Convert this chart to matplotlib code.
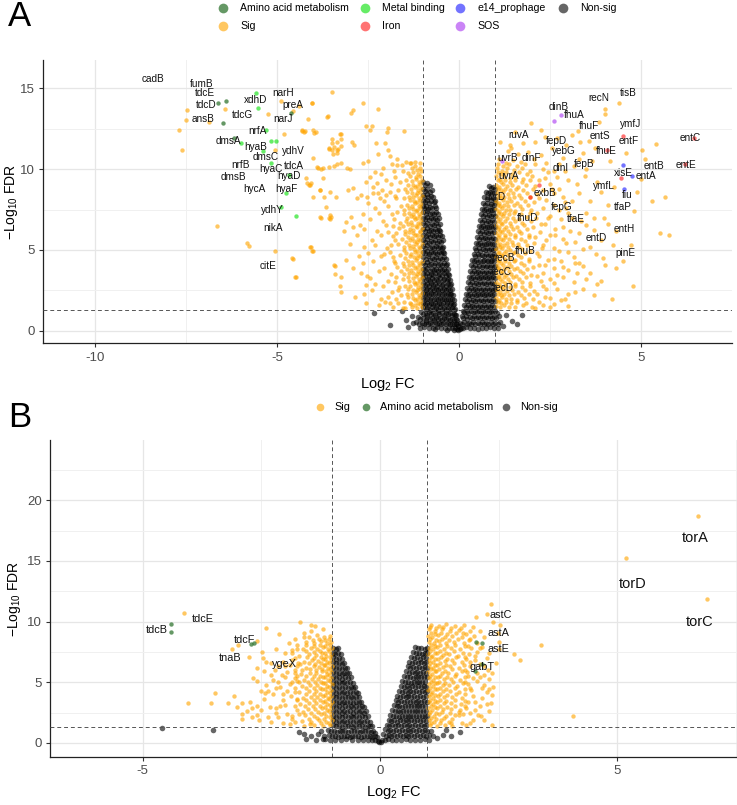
import matplotlib
matplotlib.use('Agg')
import matplotlib.pyplot as plt
from matplotlib.lines import Line2D
from matplotlib.ticker import MultipleLocator
import numpy as np

plt.rcParams['font.family'] = ['Liberation Sans', 'DejaVu Sans']
plt.rcParams['mathtext.fontset'] = 'custom'
plt.rcParams['mathtext.rm'] = 'Liberation Sans'
plt.rcParams['mathtext.it'] = 'Liberation Sans:italic'
plt.rcParams['axes.unicode_minus'] = False

# ---------------- Panel A data (log2 FC, -log10 FDR) ----------------
A_NS_LEFT = [
(-0.99,9.2),(-0.94,9.05),(-0.88,9.15),(-0.8,9.0),
(-0.98,8.8),(-0.93,8.65),(-0.87,8.75),(-0.81,8.6),(-0.74,8.7),
(-0.99,8.4),(-0.95,8.3),(-0.89,8.45),(-0.84,8.25),(-0.78,8.35),(-0.71,8.3),
(-0.98,8.05),(-0.93,7.95),(-0.87,8.1),(-0.82,7.9),(-0.76,8.0),(-0.7,7.95),(-0.66,8.05),
(-0.99,7.7),(-0.95,7.6),(-0.9,7.75),(-0.85,7.55),(-0.79,7.65),(-0.73,7.6),(-0.67,7.7),(-0.62,7.6),
(-0.98,7.35),(-0.92,7.25),(-0.87,7.4),(-0.81,7.2),(-0.75,7.3),(-0.69,7.25),(-0.64,7.35),(-0.59,7.2),
(-0.99,7.0),(-0.94,6.9),(-0.88,7.05),(-0.83,6.85),(-0.77,6.95),(-0.71,6.9),(-0.66,7.0),(-0.6,6.85),(-0.56,6.95),
(-0.98,6.65),(-0.93,6.55),(-0.87,6.7),(-0.81,6.5),(-0.75,6.6),(-0.7,6.55),(-0.64,6.65),(-0.58,6.5),(-0.53,6.6),
(-0.99,6.3),(-0.94,6.2),(-0.89,6.35),(-0.83,6.15),(-0.78,6.25),(-0.72,6.2),(-0.66,6.3),(-0.61,6.15),(-0.55,6.25),(-0.51,6.2),
(-0.98,5.95),(-0.92,5.85),(-0.86,6.0),(-0.8,5.8),(-0.74,5.9),(-0.68,5.85),(-0.63,5.95),(-0.57,5.8),(-0.52,5.9),(-0.48,5.85),
(-0.99,5.6),(-0.94,5.5),(-0.88,5.65),(-0.83,5.45),(-0.77,5.55),(-0.71,5.5),(-0.65,5.6),(-0.6,5.45),(-0.54,5.55),(-0.49,5.5),(-0.45,5.6),
(-0.98,5.25),(-0.93,5.15),(-0.87,5.3),(-0.81,5.1),(-0.75,5.2),(-0.7,5.15),(-0.64,5.25),(-0.58,5.1),(-0.53,5.2),(-0.47,5.15),(-0.43,5.2),
(-0.99,4.9),(-0.94,4.8),(-0.89,4.95),(-0.83,4.75),(-0.77,4.85),(-0.72,4.8),(-0.66,4.9),(-0.6,4.75),(-0.55,4.85),(-0.49,4.8),(-0.44,4.9),(-0.4,4.8),
(-0.98,4.55),(-0.92,4.45),(-0.86,4.6),(-0.81,4.4),(-0.75,4.5),(-0.69,4.45),(-0.63,4.55),(-0.58,4.4),(-0.52,4.5),(-0.46,4.45),(-0.41,4.55),(-0.37,4.45),
(-0.99,4.2),(-0.93,4.1),(-0.88,4.25),(-0.82,4.05),(-0.76,4.15),(-0.7,4.1),(-0.65,4.2),(-0.59,4.05),(-0.53,4.15),(-0.47,4.1),(-0.42,4.2),(-0.37,4.1),(-0.34,4.15),
(-0.98,3.85),(-0.94,3.75),(-0.87,3.9),(-0.81,3.7),(-0.75,3.8),(-0.69,3.75),(-0.64,3.85),(-0.58,3.7),(-0.52,3.8),(-0.46,3.75),(-0.41,3.85),(-0.35,3.7),(-0.31,3.8),
(-0.99,3.5),(-0.93,3.45),(-0.88,3.55),(-0.82,3.4),(-0.76,3.5),(-0.71,3.45),(-0.65,3.55),(-0.59,3.4),(-0.54,3.5),(-0.48,3.45),(-0.42,3.55),(-0.37,3.4),(-0.31,3.5),(-0.28,3.45),
(-0.98,3.25),(-0.92,3.15),(-0.86,3.2),(-0.8,3.1),(-0.75,3.25),(-0.69,3.15),(-0.63,3.2),(-0.57,3.1),(-0.51,3.25),(-0.45,3.15),(-0.4,3.2),(-0.34,3.1),(-0.29,3.2),(-0.25,3.15),
(-0.99,2.95),(-0.94,2.85),(-0.88,2.9),(-0.83,2.8),(-0.77,2.95),(-0.71,2.85),(-0.65,2.9),(-0.6,2.8),(-0.54,2.95),(-0.48,2.85),(-0.43,2.9),(-0.37,2.8),(-0.31,2.9),(-0.26,2.85),(-0.22,2.9),
(-0.98,2.65),(-0.92,2.55),(-0.87,2.6),(-0.81,2.5),(-0.75,2.65),(-0.7,2.55),(-0.64,2.6),(-0.58,2.5),(-0.53,2.65),(-0.47,2.55),(-0.41,2.6),(-0.36,2.5),(-0.3,2.6),(-0.25,2.55),(-0.2,2.6),
(-0.99,2.35),(-0.93,2.25),(-0.88,2.3),(-0.82,2.2),(-0.76,2.35),(-0.71,2.25),(-0.65,2.3),(-0.59,2.2),(-0.54,2.35),(-0.48,2.25),(-0.42,2.3),(-0.37,2.2),(-0.31,2.3),(-0.26,2.25),(-0.21,2.3),(-0.17,2.2),
(-0.98,2.05),(-0.93,1.95),(-0.87,2.0),(-0.81,1.9),(-0.76,2.05),(-0.7,1.95),(-0.64,2.0),(-0.59,1.9),(-0.53,2.05),(-0.47,1.95),(-0.42,2.0),(-0.36,1.9),(-0.3,2.0),(-0.25,1.95),(-0.2,2.0),(-0.15,1.9),
(-0.99,1.75),(-0.94,1.65),(-0.88,1.7),(-0.82,1.6),(-0.77,1.75),(-0.71,1.65),(-0.66,1.7),(-0.6,1.6),(-0.54,1.75),(-0.49,1.65),(-0.43,1.7),(-0.37,1.6),(-0.32,1.7),(-0.26,1.65),(-0.21,1.7),(-0.16,1.6),(-0.13,1.65),
(-0.98,1.45),(-0.92,1.35),(-0.87,1.4),(-0.81,1.3),(-0.75,1.45),(-0.7,1.35),(-0.64,1.4),(-0.58,1.3),(-0.53,1.45),(-0.47,1.35),(-0.41,1.4),(-0.36,1.3),(-0.3,1.4),(-0.25,1.35),(-0.19,1.4),(-0.14,1.3),(-0.11,1.35),
(-1.04,1.15),(-0.99,1.05),(-0.93,1.1),(-0.88,1.0),(-0.82,1.15),(-0.76,1.05),(-0.71,1.1),(-0.65,1.0),(-0.59,1.15),(-0.54,1.05),(-0.48,1.1),(-0.42,1.0),(-0.37,1.1),(-0.31,1.05),(-0.26,1.1),(-0.2,1.0),(-0.15,1.05),(-0.1,1.0),(-0.08,0.95),
(-1.12,0.85),(-1.06,0.75),(-0.98,0.8),(-0.92,0.7),(-0.87,0.85),(-0.81,0.75),(-0.75,0.8),(-0.7,0.7),(-0.64,0.85),(-0.58,0.75),(-0.53,0.8),(-0.47,0.7),(-0.41,0.8),(-0.36,0.75),(-0.3,0.8),(-0.25,0.7),(-0.19,0.75),(-0.14,0.7),(-0.09,0.75),(-0.06,0.65),
(-1.18,0.55),(-1.1,0.45),(-1.03,0.5),(-0.97,0.45),(-0.91,0.55),(-0.85,0.45),(-0.79,0.5),(-0.73,0.4),(-0.67,0.55),(-0.61,0.45),(-0.55,0.5),(-0.49,0.4),(-0.43,0.5),(-0.37,0.45),(-0.31,0.5),(-0.25,0.4),(-0.19,0.45),(-0.14,0.4),(-0.09,0.45),(-0.05,0.4),(-0.03,0.3),
(-1.08,0.2),(-0.95,0.25),(-0.83,0.15),(-0.71,0.2),(-0.6,0.25),(-0.49,0.15),(-0.38,0.2),(-0.28,0.15),(-0.19,0.2),(-0.11,0.15),(-0.05,0.1),(-0.02,0.05),(-0.65,0.1),(-0.33,0.08),(-0.15,0.06),
]
A_NS_RIGHT = [
(0.82,8.95),(0.88,8.85),(0.94,8.9),(0.99,8.8),
(0.74,8.6),(0.8,8.5),(0.86,8.6),(0.92,8.5),(0.97,8.55),
(0.7,8.25),(0.76,8.15),(0.82,8.25),(0.87,8.1),(0.93,8.2),(0.98,8.15),
(0.67,7.9),(0.72,7.8),(0.78,7.9),(0.84,7.75),(0.89,7.85),(0.95,7.8),(0.99,7.9),
(0.64,7.55),(0.69,7.45),(0.75,7.55),(0.81,7.4),(0.86,7.5),(0.92,7.45),(0.97,7.55),
(0.61,7.2),(0.66,7.1),(0.72,7.2),(0.78,7.05),(0.83,7.15),(0.89,7.1),(0.94,7.2),(0.99,7.1),
(0.58,6.85),(0.63,6.75),(0.69,6.85),(0.74,6.7),(0.8,6.8),(0.86,6.75),(0.91,6.85),(0.97,6.75),
(0.55,6.5),(0.6,6.4),(0.66,6.5),(0.71,6.35),(0.77,6.45),(0.83,6.4),(0.88,6.5),(0.94,6.4),(0.99,6.45),
(0.52,6.15),(0.57,6.05),(0.63,6.15),(0.68,6.0),(0.74,6.1),(0.8,6.05),(0.85,6.15),(0.91,6.05),(0.96,6.1),
(0.49,5.8),(0.54,5.7),(0.6,5.8),(0.65,5.65),(0.71,5.75),(0.77,5.7),(0.82,5.8),(0.88,5.7),(0.93,5.75),(0.98,5.7),
(0.46,5.45),(0.51,5.35),(0.57,5.45),(0.62,5.3),(0.68,5.4),(0.74,5.35),(0.79,5.45),(0.85,5.35),(0.9,5.4),(0.96,5.35),
(0.43,5.1),(0.48,5.0),(0.54,5.1),(0.59,4.95),(0.65,5.05),(0.71,5.0),(0.76,5.1),(0.82,5.0),(0.87,5.05),(0.93,5.0),(0.98,5.1),
(0.4,4.75),(0.45,4.65),(0.51,4.75),(0.56,4.6),(0.62,4.7),(0.68,4.65),(0.73,4.75),(0.79,4.65),(0.84,4.7),(0.9,4.65),(0.95,4.75),(0.99,4.65),
(0.37,4.4),(0.42,4.3),(0.48,4.4),(0.53,4.25),(0.59,4.35),(0.65,4.3),(0.7,4.4),(0.76,4.3),(0.81,4.35),(0.87,4.3),(0.92,4.4),(0.97,4.3),
(0.34,4.05),(0.39,3.95),(0.45,4.05),(0.5,3.9),(0.56,4.0),(0.62,3.95),(0.67,4.05),(0.73,3.95),(0.78,4.0),(0.84,3.95),(0.89,4.05),(0.95,3.95),(0.99,4.0),
(0.31,3.7),(0.36,3.6),(0.42,3.7),(0.47,3.55),(0.53,3.65),(0.59,3.6),(0.64,3.7),(0.7,3.6),(0.75,3.65),(0.81,3.6),(0.86,3.7),(0.92,3.6),(0.97,3.65),
(0.28,3.35),(0.33,3.25),(0.39,3.35),(0.44,3.2),(0.5,3.3),(0.56,3.25),(0.61,3.35),(0.67,3.25),(0.72,3.3),(0.78,3.25),(0.83,3.35),(0.89,3.25),(0.94,3.3),(0.99,3.25),
(0.25,3.0),(0.3,2.9),(0.36,3.0),(0.41,2.85),(0.47,2.95),(0.53,2.9),(0.58,3.0),(0.64,2.9),(0.69,2.95),(0.75,2.9),(0.8,3.0),(0.86,2.9),(0.91,2.95),(0.97,2.9),
(0.22,2.65),(0.27,2.55),(0.33,2.65),(0.38,2.5),(0.44,2.6),(0.5,2.55),(0.55,2.65),(0.61,2.55),(0.66,2.6),(0.72,2.55),(0.77,2.65),(0.83,2.55),(0.88,2.6),(0.94,2.55),(0.99,2.6),
(0.19,2.3),(0.24,2.2),(0.3,2.3),(0.35,2.15),(0.41,2.25),(0.47,2.2),(0.52,2.3),(0.58,2.2),(0.63,2.25),(0.69,2.2),(0.74,2.3),(0.8,2.2),(0.85,2.25),(0.91,2.2),(0.96,2.3),
(0.16,1.95),(0.21,1.85),(0.27,1.95),(0.32,1.8),(0.38,1.9),(0.44,1.85),(0.49,1.95),(0.55,1.85),(0.6,1.9),(0.66,1.85),(0.71,1.95),(0.77,1.85),(0.82,1.9),(0.88,1.85),(0.93,1.95),(0.98,1.85),
(0.13,1.6),(0.18,1.5),(0.24,1.6),(0.29,1.45),(0.35,1.55),(0.41,1.5),(0.46,1.6),(0.52,1.5),(0.57,1.55),(0.63,1.5),(0.68,1.6),(0.74,1.5),(0.79,1.55),(0.85,1.5),(0.9,1.6),(0.96,1.5),
(0.1,1.25),(0.15,1.15),(0.21,1.25),(0.26,1.1),(0.32,1.2),(0.38,1.15),(0.43,1.25),(0.49,1.15),(0.54,1.2),(0.6,1.15),(0.65,1.25),(0.71,1.15),(0.76,1.2),(0.82,1.15),(0.87,1.25),(0.93,1.15),(0.98,1.2),(1.05,1.1),
(0.07,0.9),(0.12,0.8),(0.18,0.9),(0.23,0.75),(0.29,0.85),(0.35,0.8),(0.4,0.9),(0.46,0.8),(0.51,0.85),(0.57,0.8),(0.62,0.9),(0.68,0.8),(0.73,0.85),(0.79,0.8),(0.84,0.9),(0.9,0.8),(0.95,0.85),(1.02,0.8),(1.09,0.9),
(0.04,0.5),(0.09,0.45),(0.15,0.55),(0.21,0.45),(0.27,0.5),(0.33,0.4),(0.39,0.55),(0.45,0.45),(0.51,0.5),(0.57,0.4),(0.63,0.55),(0.69,0.45),(0.75,0.5),(0.81,0.4),(0.87,0.55),(0.93,0.45),(0.99,0.5),(1.06,0.45),(1.14,0.55),
(0.02,0.1),(0.06,0.2),(0.12,0.15),(0.2,0.25),(0.3,0.15),(0.41,0.2),(0.52,0.1),(0.63,0.2),(0.74,0.15),(0.85,0.25),(0.96,0.15),(1.08,0.2),
]
A_NS_OUT = [(1.73,0.98),(1.45,0.6),(1.3,1.0),(1.6,0.4),(1.22,0.3),(-2.34,1.08),(-1.89,0.36),
            (-1.4,0.25),(-1.57,1.2),(-1.3,0.9),(-1.25,0.5),(-1.45,0.7)]

A_SIG_LEFT = [
(-1.08,10.4),(-1.22,10.2),(-1.35,10.35),
(-1.04,9.9),(-1.13,9.7),(-1.25,9.85),(-1.4,9.75),(-1.55,9.9),
(-1.03,9.35),(-1.1,9.2),(-1.19,9.4),(-1.3,9.25),(-1.45,9.3),(-1.62,9.2),
(-1.05,8.85),(-1.12,8.7),(-1.21,8.9),(-1.33,8.75),(-1.48,8.8),(-1.68,8.7),
(-1.02,8.35),(-1.09,8.2),(-1.17,8.4),(-1.27,8.25),(-1.38,8.3),(-1.52,8.2),(-1.75,8.35),
(-1.04,7.85),(-1.11,7.7),(-1.2,7.9),(-1.3,7.75),(-1.42,7.8),(-1.58,7.7),
(-1.03,7.35),(-1.1,7.2),(-1.18,7.4),(-1.27,7.25),(-1.37,7.3),(-1.5,7.2),(-1.7,7.35),
(-1.05,6.85),(-1.13,6.7),(-1.22,6.9),(-1.32,6.75),(-1.45,6.8),(-1.62,6.7),
(-1.02,6.35),(-1.08,6.2),(-1.16,6.4),(-1.25,6.25),(-1.35,6.3),(-1.47,6.2),(-1.66,6.35),
(-1.04,5.85),(-1.12,5.7),(-1.2,5.9),(-1.3,5.75),(-1.41,5.8),(-1.56,5.7),(-1.82,5.85),
(-1.03,5.35),(-1.09,5.2),(-1.17,5.4),(-1.26,5.25),(-1.37,5.3),(-1.5,5.2),(-1.68,5.35),
(-1.05,4.85),(-1.13,4.7),(-1.22,4.9),(-1.33,4.75),(-1.46,4.8),(-1.62,4.7),(-1.9,4.85),
(-1.02,4.35),(-1.1,4.2),(-1.18,4.4),(-1.28,4.25),(-1.4,4.3),(-1.55,4.2),(-1.78,4.35),
(-1.04,3.85),(-1.12,3.7),(-1.21,3.9),(-1.31,3.75),(-1.44,3.8),(-1.6,3.7),
(-1.03,3.35),(-1.09,3.2),(-1.17,3.4),(-1.27,3.25),(-1.39,3.3),(-1.53,3.2),(-1.72,3.35),
(-1.05,2.85),(-1.13,2.7),(-1.22,2.9),(-1.34,2.75),(-1.48,2.8),(-1.65,2.7),
(-1.02,2.35),(-1.1,2.2),(-1.19,2.4),(-1.3,2.25),(-1.43,2.3),(-1.6,2.2),
(-1.04,1.85),(-1.12,1.7),(-1.22,1.9),(-1.35,1.75),(-1.5,1.8),
(-1.03,1.45),(-1.15,1.4),(-1.28,1.5),(-1.55,1.4),
]
A_SIG_LEFT_FILL = [
(-1.06,10.1),(-1.16,9.95),(-1.3,10.05),(-1.07,9.6),(-1.17,9.5),(-1.34,9.55),
(-1.06,9.1),(-1.15,8.95),(-1.26,9.05),(-1.39,9.0),(-1.07,8.6),(-1.16,8.5),(-1.28,8.55),(-1.42,8.6),
(-1.06,8.1),(-1.14,7.95),(-1.24,8.05),(-1.35,8.1),(-1.07,7.6),(-1.15,7.5),(-1.25,7.55),(-1.36,7.6),(-1.5,7.5),
(-1.06,7.1),(-1.14,6.95),(-1.23,7.05),(-1.32,7.1),(-1.43,7.0),(-1.07,6.6),(-1.17,6.5),(-1.28,6.55),(-1.4,6.6),(-1.55,6.5),
(-1.06,6.1),(-1.15,5.95),(-1.25,6.05),(-1.36,6.1),(-1.48,6.0),(-1.07,5.6),(-1.15,5.5),(-1.24,5.55),(-1.34,5.6),(-1.46,5.5),
(-1.06,5.1),(-1.14,4.95),(-1.23,5.05),(-1.35,5.1),(-1.5,5.0),(-1.07,4.6),(-1.15,4.5),(-1.24,4.55),(-1.35,4.6),(-1.48,4.5),
(-1.06,4.1),(-1.16,3.95),(-1.26,4.05),(-1.38,4.1),(-1.52,4.0),(-1.07,3.6),(-1.15,3.5),(-1.25,3.55),(-1.36,3.6),(-1.5,3.5),
(-1.06,3.1),(-1.14,2.95),(-1.24,3.05),(-1.37,3.1),(-1.07,2.6),(-1.16,2.5),(-1.27,2.55),(-1.4,2.6),
(-1.06,2.1),(-1.15,1.95),(-1.26,2.05),(-1.4,2.1),(-1.08,1.65),(-1.2,1.6),(-1.33,1.65),
]
A_SIG_LEFT_MID = [
(-1.75,9.5),(-1.88,9.1),(-2.15,9.7),(-2.35,8.9),(-1.72,8.2),(-2.0,8.4),(-2.5,7.9),(-1.95,7.7),(-2.2,7.3),
(-1.78,6.9),(-2.45,6.9),(-2.0,6.55),(-2.6,6.3),(-1.72,6.05),(-2.15,5.95),(-2.3,5.3),(-1.98,5.1),(-1.75,5.6),
(-2.6,5.2),(-2.05,4.75),(-1.8,4.55),(-2.35,4.3),(-1.7,3.95),(-2.2,3.7),(-1.88,3.5),(-2.45,3.25),(-1.75,3.05),
(-2.1,2.75),(-1.68,2.5),(-2.4,2.55),(-1.95,2.1),(-2.15,1.95),(-1.72,1.95),(-2.55,1.75),(-1.9,1.75),
(-1.85,10.3),(-2.1,10.1),(-2.3,9.8),(-1.7,10.6),(-2.55,9.2),(-2.7,8.4),(-2.65,7.2),(-2.8,5.9),(-2.75,4.6),
(-2.9,3.9),(-2.55,2.85),(-2.85,2.1),(-3.0,5.4),(-3.1,4.4),(-3.15,6.2),
]
A_SIG_LEFT_SCATTER = [
(-1.51,12.36),(-1.94,12.52),(-1.99,12.31),(-2.22,13.72),(-2.63,14.1),(-2.92,13.65),(-2.98,13.49),
(-3.63,13.24),(-4.05,14.07),(-4.32,12.37),(-4.26,12.31),(-4.0,12.42),(-3.98,12.21),(-2.55,12.67),
(-2.4,12.67),(-2.45,12.42),(-3.27,12.17),(-2.93,11.7),(-2.88,11.49),(-2.28,11.59),(-2.03,11.59),
(-2.22,10.93),(-2.99,9.99),(-3.87,10.05),(-3.5,11.6),(-3.43,11.39),(-3.57,11.22),(-3.32,11.22),
(-3.36,10.98),(-3.47,10.93),(-1.94,11.18),(-1.9,10.81),(-1.46,10.46),(-1.71,10.25),(-1.57,10.25),
(-1.32,10.36),(-1.21,10.46),(-2.63,10.4),(-2.49,10.5),(-3.73,10.05),(-3.73,9.47),(-4.18,9.12),
(-4.09,9.02),(-3.82,8.71),(-4.0,8.29),(-3.54,8.6),(-2.81,8.23),(-2.9,8.81),(-3.04,8.71),(-2.52,8.29),
(-2.37,8.5),(-2.22,8.5),(-2.17,8.23),(-2.12,8.71),(-3.82,7.06),(-3.54,7.16),(-3.56,6.96),(-2.98,7.06),
(-2.92,6.4),(-2.72,6.54),(-4.09,5.2),(-4.02,4.95),(-4.58,4.48),(-4.51,3.35),(-3.43,4.07),(-3.41,3.51),
(-3.27,2.77),(-3.24,2.42),(-2.63,4.17),(-2.52,3.39),(-2.03,1.8),(-1.67,1.7),(-1.48,1.39),
(-2.45,9.53),(-2.26,9.12),(-2.0,9.3),(-2.3,7.6),(-1.85,7.2),(-2.1,6.8),(-1.95,6.1),(-2.4,5.6),
(-1.88,5.3),(-2.15,4.6),(-2.05,3.9),(-1.95,3.1),(-2.3,2.9),(-2.6,2.3),(-1.85,2.4),(-2.2,1.6),
(-1.78,9.9),(-1.9,8.6),(-2.05,8.0),(-1.8,6.5),(-2.25,6.2),(-1.75,4.2),(-2.5,4.8),(-2.7,3.6),(-1.82,1.5),
(-7.46,13.65),(-7.5,13.07),(-7.7,12.4),(-7.6,11.2),(-6.88,12.92),(-6.42,13.73),(-6.66,6.49),
(-5.83,5.43),(-5.76,5.25),(-5.05,4.93),(-4.07,5.18),(-4.03,4.93),(-4.57,4.42),(-3.41,4.04),
(-4.48,3.32),(-3.23,3.32),(-5.24,13.42),(-4.57,13.59),(-4.39,13.9),(-4.04,14.1),(-4.89,14.2),
(-3.48,14.77),(-4.16,13.13),(-3.61,13.27),(-4.82,12.2),(-4.3,12.4),(-4.23,12.34),(-3.93,12.28),
(-3.25,12.2),(-3.5,11.86),(-3.34,11.66),(-3.25,11.45),(-3.57,11.3),(-3.48,11.2),(-3.34,11.2),
(-3.25,11.86),(-5.05,11.2),(-4.01,10.72),(-3.89,10.16),(-3.8,10.02),(-3.57,10.16),(-3.43,10.2),
(-3.34,10.33),(-3.25,10.41),(-3.07,10.06),(-4.21,9.44),(-4.12,9.02),(-4.07,9.13),(-3.83,8.71),
(-3.71,8.3),(-3.39,8.3),(-3.64,7.67),(-3.8,7.0),(-3.52,7.05),(-3.54,6.89),(-3.11,6.74),
]
A_SIG_RIGHT = [
(1.35,11.1),(1.62,10.95),(1.9,11.05),(2.25,10.9),
(1.1,10.6),(1.28,10.4),(1.47,10.55),(1.7,10.45),(2.05,10.6),(2.4,10.4),
(1.04,10.05),(1.18,9.9),(1.32,10.1),(1.5,9.95),(1.72,10.05),(1.95,9.9),(2.3,10.0),
(1.03,9.55),(1.13,9.4),(1.25,9.6),(1.39,9.45),(1.55,9.5),(1.76,9.4),(2.0,9.55),(2.35,9.45),
(1.02,9.05),(1.1,8.9),(1.2,9.1),(1.32,8.95),(1.45,9.0),(1.62,8.9),(1.83,9.05),(2.1,8.95),(2.5,9.1),
(1.04,8.55),(1.12,8.4),(1.22,8.6),(1.34,8.45),(1.48,8.5),(1.66,8.4),(1.88,8.55),(2.15,8.45),(2.6,8.5),
(1.03,8.05),(1.11,7.9),(1.2,8.1),(1.31,7.95),(1.44,8.0),(1.6,7.9),(1.8,8.05),(2.05,7.95),(2.4,8.1),(2.9,7.95),
(1.02,7.55),(1.09,7.4),(1.18,7.6),(1.28,7.45),(1.4,7.5),(1.55,7.4),(1.73,7.55),(1.97,7.45),(2.3,7.6),(2.75,7.45),
(1.04,7.05),(1.12,6.9),(1.21,7.1),(1.33,6.95),(1.47,7.0),(1.64,6.9),(1.86,7.05),(2.12,6.95),(2.5,7.1),(3.1,6.95),
(1.03,6.55),(1.1,6.4),(1.19,6.6),(1.3,6.45),(1.43,6.5),(1.59,6.4),(1.78,6.55),(2.02,6.45),(2.35,6.6),(2.85,6.45),
(1.02,6.05),(1.09,5.9),(1.17,6.1),(1.27,5.95),(1.39,6.0),(1.53,5.9),(1.71,6.05),(1.93,5.95),(2.22,6.1),(2.65,5.95),(3.3,6.05),
(1.04,5.55),(1.12,5.4),(1.21,5.6),(1.32,5.45),(1.45,5.5),(1.61,5.4),(1.8,5.55),(2.05,5.45),(2.4,5.6),(2.95,5.45),
(1.03,5.05),(1.1,4.9),(1.18,5.1),(1.28,4.95),(1.4,5.0),(1.55,4.9),(1.73,5.05),(1.96,4.95),(2.28,5.1),(2.75,4.95),(3.4,5.05),
(1.02,4.55),(1.09,4.4),(1.17,4.6),(1.27,4.45),(1.39,4.5),(1.53,4.4),(1.7,4.55),(1.92,4.45),(2.2,4.6),(2.6,4.45),(3.15,4.55),
(1.04,4.05),(1.11,3.9),(1.2,4.1),(1.31,3.95),(1.44,4.0),(1.6,3.9),(1.79,4.05),(2.03,3.95),(2.35,4.1),(2.85,3.95),
(1.03,3.55),(1.1,3.4),(1.19,3.6),(1.3,3.45),(1.42,3.5),(1.57,3.4),(1.75,3.55),(1.98,3.45),(2.3,3.6),(2.7,3.45),(3.25,3.55),
(1.02,3.05),(1.09,2.9),(1.17,3.1),(1.27,2.95),(1.39,3.0),(1.54,2.9),(1.72,3.05),(1.95,2.95),(2.25,3.1),(2.6,2.95),
(1.04,2.55),(1.12,2.4),(1.21,2.6),(1.32,2.45),(1.45,2.5),(1.61,2.4),(1.8,2.55),(2.05,2.45),(2.4,2.6),
(1.03,2.05),(1.1,1.9),(1.19,2.1),(1.3,1.95),(1.43,2.0),(1.59,1.9),(1.78,2.05),(2.02,1.95),(2.35,2.1),
(1.02,1.55),(1.12,1.45),(1.24,1.6),(1.38,1.5),(1.55,1.45),(1.75,1.6),(2.0,1.5),(2.3,1.6),
]
A_SIG_RIGHT_FILL = [
(1.07,10.3),(1.2,10.2),(1.38,10.3),(1.58,10.2),(1.82,10.3),
(1.06,9.8),(1.16,9.7),(1.29,9.8),(1.45,9.7),(1.64,9.8),(1.88,9.7),
(1.07,9.3),(1.15,9.2),(1.26,9.3),(1.39,9.2),(1.54,9.3),(1.72,9.2),(1.96,9.3),
(1.06,8.8),(1.16,8.7),(1.27,8.8),(1.4,8.7),(1.56,8.8),(1.76,8.7),(2.02,8.8),
(1.07,8.3),(1.15,8.2),(1.25,8.3),(1.37,8.2),(1.52,8.3),(1.7,8.2),(1.94,8.3),
(1.06,7.8),(1.14,7.7),(1.24,7.8),(1.35,7.7),(1.5,7.8),(1.67,7.7),(1.9,7.8),
(1.07,7.3),(1.15,7.2),(1.25,7.3),(1.37,7.2),(1.52,7.3),(1.7,7.2),(1.95,7.3),
(1.06,6.8),(1.16,6.7),(1.27,6.8),(1.4,6.7),(1.55,6.8),(1.73,6.7),(1.98,6.8),
(1.07,6.3),(1.14,6.2),(1.24,6.3),(1.35,6.2),(1.49,6.3),(1.66,6.2),(1.88,6.3),
(1.06,5.8),(1.15,5.7),(1.26,5.8),(1.38,5.7),(1.53,5.8),(1.7,5.7),(1.93,5.8),
(1.07,5.3),(1.14,5.2),(1.23,5.3),(1.34,5.2),(1.47,5.3),(1.64,5.2),(1.86,5.3),
(1.06,4.8),(1.15,4.7),(1.24,4.8),(1.35,4.7),(1.48,4.8),(1.63,4.7),(1.82,4.8),
(1.07,4.3),(1.16,4.2),(1.26,4.3),(1.38,4.2),(1.52,4.3),(1.7,4.2),(1.92,4.3),
(1.06,3.8),(1.15,3.7),(1.25,3.8),(1.37,3.7),(1.5,3.8),(1.67,3.7),(1.88,3.8),
(1.07,3.3),(1.14,3.2),(1.24,3.3),(1.35,3.2),(1.48,3.3),(1.64,3.2),(1.85,3.3),
(1.06,2.8),(1.16,2.7),(1.27,2.8),(1.4,2.7),(1.55,2.8),(1.72,2.7),(1.95,2.8),
(1.07,2.3),(1.15,2.2),(1.25,2.3),(1.37,2.2),(1.52,2.3),(1.7,2.2),(1.92,2.3),
(1.06,1.8),(1.16,1.7),(1.28,1.8),(1.42,1.7),(1.6,1.8),(1.85,1.7),
]
A_SIG_RIGHT_MID = [
(2.1,10.3),(2.45,9.8),(2.2,9.3),(2.7,9.5),(2.55,8.8),(2.3,8.7),(2.85,8.3),(2.2,8.2),(2.6,7.8),(3.0,7.3),
(2.15,7.3),(2.45,7.0),(2.8,6.9),(2.25,6.6),(2.65,6.3),(3.05,6.2),(2.1,5.8),(2.5,5.9),(2.85,5.7),(3.2,5.5),
(2.3,5.3),(2.6,5.1),(3.0,4.9),(2.15,4.8),(2.45,4.4),(2.8,4.3),(3.3,4.2),(2.2,4.1),(2.6,3.9),(3.0,3.75),
(2.15,3.4),(2.5,3.2),(2.85,3.3),(3.15,3.05),(2.3,2.8),(2.7,2.6),(3.2,2.4),(2.15,2.3),(2.5,2.05),(2.9,2.0),
(2.2,1.8),(2.6,1.65),(3.0,1.55),(2.1,1.4),(3.5,3.2),(3.4,4.0),(3.6,5.2),(3.35,6.8),(3.7,7.0),(3.1,8.0),
(3.25,9.1),(2.9,9.9),(3.5,10.0),(3.3,10.6),(2.75,10.3),(3.9,8.6),(4.1,6.6),(3.8,2.9),(4.2,2.0),(3.95,4.5),
]
A_SIG_RIGHT_SCATTER = [
(4.4,14.1),(4.02,13.73),(4.02,13.38),(1.97,12.86),(2.24,12.45),(3.26,12.34),(3.32,11.66),(3.56,11.72),
(5.4,11.57),(5.04,11.16),(4.99,9.38),(5.65,8.26),(4.81,7.43),(3.99,6.95),(5.52,6.08),(5.78,5.91),
(4.73,5.33),(4.23,5.33),(4.78,2.8),(3.49,6.53),(3.72,6.22),(3.76,4.77),
(2.7,11.9),(2.95,11.5),(3.1,12.1),(2.55,11.3),(3.4,11.0),(2.85,10.7),(3.65,10.5),(3.15,10.2),
(2.6,9.9),(3.45,9.6),(3.0,9.3),(3.8,9.2),(2.75,8.8),(3.3,8.5),(3.6,8.0),(2.95,7.6),(3.5,7.3),
(4.1,7.8),(3.2,4.2),(3.6,3.6),(4.0,4.1),(3.0,2.3),(3.4,2.6),(2.8,1.9),(3.9,3.1),(4.3,3.9),(2.5,1.5),
(3.7,2.2),(4.3,6.2),(4.15,10.5),(3.85,12.9),(3.75,11.3),(4.25,8.9),(2.35,12.0),(1.75,11.6),(1.55,12.3),
(2.1,11.7),(1.4,11.5),(1.13,11.7),(1.42,11.29),(3.9,5.6),(4.5,4.3),(4.9,8.6),(5.1,10.6),(5.3,8.0),(4.6,11.0),
]
A_AMINO = [(-6.62,14.1),(-6.39,14.2),(-6.48,12.86),(-6.18,11.9),(-4.62,13.5)]
A_METAL = [(-5.57,14.73),(-5.53,13.8),(-5.3,12.4),(-5.16,11.76),(-5.03,11.76),(-6.0,11.6),
           (-5.39,11.1),(-5.16,10.37),(-4.66,9.65),(-4.74,8.55),(-4.89,7.67),(-4.48,7.13)]
A_IRON = [(4.51,12.03),(4.06,11.16),(4.45,9.44),(2.19,9.02),(1.96,8.26),(6.2,10.3),(6.45,11.95)]
A_E14 = [(4.51,10.27),(4.52,8.76),(4.76,9.58)]
A_SOS = [(2.81,13.34),(2.62,13.0),(1.17,10.52)]

A_LABEL_NAMES = ['cadB','fumB','tdcE','tdcD','ansB','xdhD','narH','preA','tdcG','narJ','nrfA','dmsA',
                 'hyaB','ydhV','dmsC','nrfB','hyaC','tdcA','dmsB','hyaD','hycA','hyaF','ydhY','nikA','citE',
                 'tisB','recN','dinB','fhuA','ymfJ','fhuF','ruvA','entS','fepD','entF','entC','yebG','fhuE',
                 'uvrB','dinF','fepB','entB','entE','dinI','xisE','entA','uvrA','ymfL','fiu','exbB','uvrD',
                 'fepG','tfaP','fhuD','tfaE','entH','entD','fhuB','pinE','recB','recC','recD']
A_LABEL_X = [-8.4,-7.08,-6.97,-6.94,-7.03,-5.6,-4.82,-4.57,-5.94,-4.84,-5.53,-6.33,
             -5.59,-4.55,-5.3,-6.01,-5.18,-4.53,-6.21,-4.68,-5.62,-4.74,-5.14,-5.12,-5.25,
             4.64,3.83,2.73,3.17,4.72,3.58,1.65,3.87,2.69,4.67,6.34,2.87,4.06,
             1.33,1.99,3.44,5.37,6.24,2.78,4.52,5.13,1.35,3.99,4.63,2.35,0.98,
             2.83,4.49,1.88,3.22,4.55,3.76,1.83,4.56,1.26,1.14,1.21]
A_LABEL_Y = [15.6,15.29,14.69,13.94,13.13,14.27,14.69,13.96,13.32,13.1,12.38,11.76,
             11.36,11.14,10.76,10.25,10.04,10.2,9.5,9.55,8.77,8.77,7.47,6.37,3.98,
             14.73,14.42,13.86,13.34,12.8,12.66,12.13,12.07,11.76,11.76,11.93,11.14,11.14,
             10.72,10.68,10.31,10.2,10.27,10.1,9.75,9.6,9.58,8.98,8.4,8.5,8.3,
             7.64,7.64,6.95,6.89,6.29,5.77,4.92,4.81,4.5,3.63,2.63]

# ---------------- Panel B data ----------------
B_NS_LEFT = [
(-0.98,7.85),(-0.93,7.7),(-0.88,7.8),
(-0.99,7.45),(-0.94,7.35),(-0.88,7.4),(-0.83,7.3),
(-0.98,7.05),(-0.92,6.95),(-0.86,7.0),(-0.8,6.9),
(-0.99,6.65),(-0.93,6.55),(-0.87,6.6),(-0.81,6.5),(-0.75,6.6),
(-0.98,6.25),(-0.92,6.15),(-0.86,6.2),(-0.8,6.1),(-0.74,6.2),(-0.7,6.15),
(-0.99,5.85),(-0.93,5.75),(-0.87,5.8),(-0.81,5.7),(-0.75,5.8),(-0.69,5.75),(-0.65,5.8),
(-0.98,5.45),(-0.92,5.35),(-0.86,5.4),(-0.8,5.3),(-0.74,5.4),(-0.68,5.35),(-0.62,5.4),
(-0.99,5.05),(-0.93,4.95),(-0.87,5.0),(-0.81,4.9),(-0.75,5.0),(-0.69,4.95),(-0.63,5.0),(-0.57,4.95),
(-0.98,4.65),(-0.92,4.55),(-0.86,4.6),(-0.8,4.5),(-0.74,4.6),(-0.68,4.55),(-0.62,4.6),(-0.56,4.5),(-0.52,4.6),
(-0.99,4.25),(-0.93,4.15),(-0.87,4.2),(-0.81,4.1),(-0.75,4.2),(-0.69,4.15),(-0.63,4.2),(-0.57,4.1),(-0.51,4.2),(-0.47,4.15),
(-0.98,3.85),(-0.92,3.75),(-0.86,3.8),(-0.8,3.7),(-0.74,3.8),(-0.68,3.75),(-0.62,3.8),(-0.56,3.7),(-0.5,3.8),(-0.44,3.75),
(-0.99,3.45),(-0.93,3.35),(-0.87,3.4),(-0.81,3.3),(-0.75,3.4),(-0.69,3.35),(-0.63,3.4),(-0.57,3.3),(-0.51,3.4),(-0.45,3.35),(-0.39,3.4),
(-0.98,3.05),(-0.92,2.95),(-0.86,3.0),(-0.8,2.9),(-0.74,3.0),(-0.68,2.95),(-0.62,3.0),(-0.56,2.9),(-0.5,3.0),(-0.44,2.95),(-0.38,3.0),(-0.34,2.95),
(-0.99,2.65),(-0.93,2.55),(-0.87,2.6),(-0.81,2.5),(-0.75,2.6),(-0.69,2.55),(-0.63,2.6),(-0.57,2.5),(-0.51,2.6),(-0.45,2.55),(-0.39,2.6),(-0.33,2.5),(-0.29,2.6),
(-0.98,2.25),(-0.92,2.15),(-0.86,2.2),(-0.8,2.1),(-0.74,2.2),(-0.68,2.15),(-0.62,2.2),(-0.56,2.1),(-0.5,2.2),(-0.44,2.15),(-0.38,2.2),(-0.32,2.1),(-0.26,2.2),
(-0.99,1.85),(-0.93,1.75),(-0.87,1.8),(-0.81,1.7),(-0.75,1.8),(-0.69,1.75),(-0.63,1.8),(-0.57,1.7),(-0.51,1.8),(-0.45,1.75),(-0.39,1.8),(-0.33,1.7),(-0.27,1.8),(-0.21,1.75),
(-0.98,1.45),(-0.92,1.35),(-0.86,1.4),(-0.8,1.3),(-0.74,1.4),(-0.68,1.35),(-0.62,1.4),(-0.56,1.3),(-0.5,1.4),(-0.44,1.35),(-0.38,1.4),(-0.32,1.3),(-0.26,1.4),(-0.2,1.35),(-0.17,1.4),
(-1.1,1.05),(-1.03,0.95),(-0.97,1.0),(-0.91,0.9),(-0.85,1.0),(-0.79,0.95),(-0.73,1.0),(-0.67,0.9),(-0.61,1.0),(-0.55,0.95),(-0.49,1.0),(-0.43,0.9),(-0.37,1.0),(-0.31,0.95),(-0.25,1.0),(-0.19,0.9),(-0.14,0.95),(-0.11,0.85),
(-1.6,0.75),(-1.45,0.6),(-1.3,0.7),(-1.18,0.55),(-1.08,0.65),(-1.0,0.55),(-0.94,0.6),(-0.88,0.5),(-0.82,0.6),(-0.76,0.55),(-0.7,0.6),(-0.64,0.5),(-0.58,0.6),(-0.52,0.55),(-0.46,0.6),(-0.4,0.5),(-0.34,0.6),(-0.28,0.55),(-0.22,0.6),(-0.16,0.5),(-0.11,0.55),(-0.07,0.45),
(-1.7,0.9),(-1.55,0.3),(-1.35,0.25),(-1.2,0.3),(-1.05,0.2),(-0.95,0.25),(-0.83,0.2),(-0.71,0.3),(-0.59,0.2),(-0.47,0.25),(-0.36,0.2),(-0.26,0.25),(-0.17,0.2),(-0.1,0.25),(-0.05,0.15),(-0.02,0.05),
]
B_NS_RIGHT = [
(0.74,7.9),(0.8,7.8),(0.87,7.85),(0.94,7.75),(0.99,7.85),
(0.7,7.5),(0.76,7.4),(0.82,7.45),(0.88,7.35),(0.94,7.45),(0.99,7.4),
(0.66,7.1),(0.72,7.0),(0.78,7.05),(0.84,6.95),(0.9,7.05),(0.96,7.0),
(0.62,6.7),(0.68,6.6),(0.74,6.65),(0.8,6.55),(0.86,6.65),(0.92,6.6),(0.98,6.65),
(0.58,6.3),(0.64,6.2),(0.7,6.25),(0.76,6.15),(0.82,6.25),(0.88,6.2),(0.94,6.25),(0.99,6.15),
(0.55,5.9),(0.61,5.8),(0.67,5.85),(0.73,5.75),(0.79,5.85),(0.85,5.8),(0.91,5.85),(0.97,5.8),
(0.51,5.5),(0.57,5.4),(0.63,5.45),(0.69,5.35),(0.75,5.45),(0.81,5.4),(0.87,5.45),(0.93,5.4),(0.99,5.45),
(0.47,5.1),(0.53,5.0),(0.59,5.05),(0.65,4.95),(0.71,5.05),(0.77,5.0),(0.83,5.05),(0.89,5.0),(0.95,5.05),
(0.44,4.7),(0.5,4.6),(0.56,4.65),(0.62,4.55),(0.68,4.65),(0.74,4.6),(0.8,4.65),(0.86,4.6),(0.92,4.65),(0.98,4.6),
(0.4,4.3),(0.46,4.2),(0.52,4.25),(0.58,4.15),(0.64,4.25),(0.7,4.2),(0.76,4.25),(0.82,4.2),(0.88,4.25),(0.94,4.2),(0.99,4.25),
(0.36,3.9),(0.42,3.8),(0.48,3.85),(0.54,3.75),(0.6,3.85),(0.66,3.8),(0.72,3.85),(0.78,3.8),(0.84,3.85),(0.9,3.8),(0.96,3.85),
(0.33,3.5),(0.39,3.4),(0.45,3.45),(0.51,3.35),(0.57,3.45),(0.63,3.4),(0.69,3.45),(0.75,3.4),(0.81,3.45),(0.87,3.4),(0.93,3.45),(0.99,3.4),
(0.29,3.1),(0.35,3.0),(0.41,3.05),(0.47,2.95),(0.53,3.05),(0.59,3.0),(0.65,3.05),(0.71,3.0),(0.77,3.05),(0.83,3.0),(0.89,3.05),(0.95,3.0),
(0.25,2.7),(0.31,2.6),(0.37,2.65),(0.43,2.55),(0.49,2.65),(0.55,2.6),(0.61,2.65),(0.67,2.6),(0.73,2.65),(0.79,2.6),(0.85,2.65),(0.91,2.6),(0.97,2.65),
(0.22,2.3),(0.28,2.2),(0.34,2.25),(0.4,2.15),(0.46,2.25),(0.52,2.2),(0.58,2.25),(0.64,2.2),(0.7,2.25),(0.76,2.2),(0.82,2.25),(0.88,2.2),(0.94,2.25),(0.99,2.2),
(0.18,1.9),(0.24,1.8),(0.3,1.85),(0.36,1.75),(0.42,1.85),(0.48,1.8),(0.54,1.85),(0.6,1.8),(0.66,1.85),(0.72,1.8),(0.78,1.85),(0.84,1.8),(0.9,1.85),(0.96,1.8),
(0.14,1.5),(0.2,1.4),(0.26,1.45),(0.32,1.35),(0.38,1.45),(0.44,1.4),(0.5,1.45),(0.56,1.4),(0.62,1.45),(0.68,1.4),(0.74,1.45),(0.8,1.4),(0.86,1.45),(0.92,1.4),(0.98,1.45),
(0.1,1.1),(0.16,1.0),(0.22,1.05),(0.28,0.95),(0.34,1.05),(0.4,1.0),(0.46,1.05),(0.52,1.0),(0.58,1.05),(0.64,1.0),(0.7,1.05),(0.76,1.0),(0.82,1.05),(0.88,1.0),(0.94,1.05),(1.0,0.95),(1.08,1.0),
(0.06,0.7),(0.12,0.6),(0.18,0.65),(0.24,0.55),(0.3,0.65),(0.36,0.6),(0.42,0.65),(0.48,0.6),(0.54,0.65),(0.6,0.6),(0.66,0.65),(0.72,0.6),(0.78,0.65),(0.84,0.6),(0.9,0.65),(0.96,0.6),(1.04,0.65),(1.12,0.6),
(0.02,0.1),(0.05,0.25),(0.1,0.2),(0.17,0.3),(0.25,0.2),(0.34,0.25),(0.44,0.2),(0.54,0.3),(0.64,0.2),(0.74,0.25),(0.84,0.2),(0.94,0.3),(1.03,0.25),
]
B_NS_OUT = [(-4.6,1.21),(-3.52,1.07),(-1.25,0.95),(-1.15,0.3),(1.32,0.66),(1.4,1.07),(1.68,0.93),(1.2,0.4),(1.5,0.55)]

B_SIG_LEFT = [
(-1.2,9.35),(-1.45,9.25),
(-1.05,8.85),(-1.18,8.7),(-1.33,8.9),(-1.5,8.75),
(-1.03,8.35),(-1.12,8.2),(-1.24,8.4),(-1.38,8.25),(-1.55,8.3),
(-1.02,7.85),(-1.1,7.7),(-1.2,7.9),(-1.32,7.75),(-1.46,7.8),(-1.62,7.7),
(-1.04,7.35),(-1.13,7.2),(-1.23,7.4),(-1.35,7.25),(-1.5,7.3),(-1.7,7.2),
(-1.03,6.85),(-1.11,6.7),(-1.2,6.9),(-1.31,6.75),(-1.44,6.8),(-1.6,6.7),(-1.85,6.85),
(-1.02,6.35),(-1.09,6.2),(-1.18,6.4),(-1.28,6.25),(-1.4,6.3),(-1.55,6.2),(-1.75,6.35),
(-1.04,5.85),(-1.12,5.7),(-1.22,5.9),(-1.34,5.75),(-1.48,5.8),(-1.66,5.7),(-1.95,5.85),
(-1.03,5.35),(-1.1,5.2),(-1.19,5.4),(-1.3,5.25),(-1.43,5.3),(-1.59,5.2),(-1.8,5.35),
(-1.02,4.85),(-1.11,4.7),(-1.21,4.9),(-1.33,4.75),(-1.47,4.8),(-1.64,4.7),(-1.9,4.85),
(-1.04,4.35),(-1.12,4.2),(-1.22,4.4),(-1.35,4.25),(-1.5,4.3),(-1.7,4.2),
(-1.03,3.85),(-1.1,3.7),(-1.2,3.9),(-1.32,3.75),(-1.46,3.8),(-1.63,3.7),(-1.88,3.85),
(-1.02,3.35),(-1.11,3.2),(-1.21,3.4),(-1.34,3.25),(-1.49,3.3),(-1.68,3.2),
(-1.04,2.85),(-1.12,2.7),(-1.23,2.9),(-1.36,2.75),(-1.52,2.8),(-1.75,2.7),
(-1.03,2.35),(-1.13,2.2),(-1.25,2.4),(-1.4,2.25),(-1.58,2.3),(-1.85,2.2),
(-1.02,1.85),(-1.14,1.7),(-1.28,1.9),(-1.45,1.75),(-1.65,1.8),
(-1.05,1.45),(-1.2,1.4),(-1.38,1.5),(-1.6,1.4),
]
B_SIG_LEFT_FILL = [
(-1.07,8.6),(-1.16,8.45),(-1.28,8.55),(-1.42,8.5),
(-1.06,8.1),(-1.15,7.95),(-1.27,8.05),(-1.4,8.0),(-1.56,8.05),
(-1.07,7.6),(-1.16,7.45),(-1.26,7.55),(-1.4,7.5),(-1.56,7.55),
(-1.06,7.1),(-1.15,6.95),(-1.25,7.05),(-1.38,7.0),(-1.54,7.05),
(-1.07,6.6),(-1.15,6.45),(-1.25,6.55),(-1.36,6.5),(-1.5,6.55),(-1.68,6.5),
(-1.06,6.1),(-1.14,5.95),(-1.23,6.05),(-1.34,6.0),(-1.47,6.05),(-1.64,6.0),
(-1.07,5.6),(-1.16,5.45),(-1.27,5.55),(-1.4,5.5),(-1.56,5.55),(-1.75,5.5),
(-1.06,5.1),(-1.15,4.95),(-1.25,5.05),(-1.37,5.0),(-1.52,5.05),(-1.7,5.0),
(-1.07,4.6),(-1.16,4.45),(-1.27,4.55),(-1.4,4.5),(-1.56,4.55),(-1.78,4.5),
(-1.06,4.1),(-1.15,3.95),(-1.26,4.05),(-1.39,4.0),(-1.56,4.05),
(-1.07,3.6),(-1.16,3.45),(-1.26,3.55),(-1.39,3.5),(-1.55,3.55),(-1.75,3.5),
(-1.06,3.1),(-1.15,2.95),(-1.27,3.05),(-1.41,3.0),(-1.58,3.05),
(-1.07,2.6),(-1.17,2.45),(-1.3,2.55),(-1.45,2.5),(-1.62,2.55),
(-1.06,2.1),(-1.18,1.95),(-1.33,2.05),(-1.5,2.0),
(-1.08,1.6),(-1.25,1.6),(-1.48,1.55),
]
B_SIG_LEFT_MID = [
(-1.75,8.1),(-1.85,7.4),(-2.2,7.7),(-1.72,6.6),(-2.15,6.35),(-2.4,6.7),(-1.78,5.75),(-2.3,5.6),(-2.45,5.9),
(-1.75,5.1),(-2.15,5.0),(-2.4,4.8),(-1.8,4.2),(-2.25,4.0),(-2.5,4.3),(-1.75,3.6),(-2.05,3.5),(-2.45,3.6),
(-1.8,3.0),(-2.5,2.7),(-1.7,2.4),(-2.2,2.5),(-2.6,2.3),(-1.85,2.0),(-2.3,1.7),(-2.05,1.6),(-2.55,1.9),
(-2.8,2.6),(-2.9,2.0),(-2.6,3.0),
]
B_SIG_LEFT_SCATTER = [
(-4.13,10.74),(-2.58,8.41),(-3.0,8.08),(-3.12,7.72),(-2.76,7.12),(-2.4,9.45),(-2.48,7.53),(-2.46,7.03),
(-2.68,5.38),(-2.6,5.14),(-1.68,10.0),(-1.45,9.7),(-1.37,9.65),(-1.61,8.76),(-2.0,7.44),(-1.86,7.67),
(-1.74,7.72),(-2.21,6.02),(-2.07,5.6),(-2.25,5.19),(-2.18,4.51),(-3.47,4.1),(-4.04,3.27),(-3.56,3.32),
(-3.07,3.9),(-3.21,3.32),(-3.02,2.99),(-2.91,3.32),(-2.7,2.86),(-2.74,3.4),(-2.91,2.39),(-2.7,2.17),
(-2.42,4.15),(-2.35,4.29),(-2.32,2.99),(-2.2,2.9),(-2.1,3.05),(-2.0,3.1),(-2.35,2.1),(-2.15,2.15),
(-1.95,2.4),(-1.8,1.7),(-1.9,1.55),(-2.05,4.0),(-1.95,4.3),(-2.1,4.6),(-1.85,5.0),(-2.0,5.4),
(-1.8,6.0),(-1.9,6.4),(-2.05,6.7),(-1.8,7.0),(-1.92,8.2),(-1.78,8.6),(-2.12,9.0),(-1.6,9.1),
(-2.6,6.2),(-2.3,6.6),(-2.0,6.3),
]
B_SIG_RIGHT = [
(1.08,9.75),(1.25,9.6),(1.4,9.8),(1.58,9.65),(1.78,9.7),
(1.03,9.35),(1.15,9.2),(1.3,9.4),(1.47,9.25),(1.66,9.3),(1.9,9.2),
(1.02,8.85),(1.1,8.7),(1.22,8.9),(1.36,8.75),(1.52,8.8),(1.72,8.7),(1.98,8.85),
(1.04,8.35),(1.13,8.2),(1.25,8.4),(1.39,8.25),(1.56,8.3),(1.77,8.2),
(1.03,7.85),(1.11,7.7),(1.21,7.9),(1.34,7.75),(1.49,7.8),(1.68,7.7),(1.92,7.85),
(1.02,7.35),(1.1,7.2),(1.2,7.4),(1.32,7.25),(1.46,7.3),(1.64,7.2),(1.87,7.35),
(1.04,6.85),(1.12,6.7),(1.23,6.9),(1.36,6.75),(1.52,6.8),(1.72,6.7),(2.0,6.85),
(1.03,6.35),(1.11,6.2),(1.21,6.4),(1.33,6.25),(1.48,6.3),(1.66,6.2),(1.9,6.35),
(1.02,5.85),(1.1,5.7),(1.19,5.9),(1.3,5.75),(1.44,5.8),(1.61,5.7),(1.83,5.85),
(1.04,5.35),(1.12,5.2),(1.22,5.4),(1.35,5.25),(1.5,5.3),(1.69,5.2),(1.95,5.35),
(1.03,4.85),(1.11,4.7),(1.2,4.9),(1.32,4.75),(1.46,4.8),(1.63,4.7),(1.86,4.85),
(1.02,4.35),(1.1,4.2),(1.2,4.4),(1.33,4.25),(1.48,4.3),(1.67,4.2),(1.92,4.35),
(1.04,3.85),(1.12,3.7),(1.22,3.9),(1.35,3.75),(1.51,3.8),(1.72,3.7),
(1.03,3.35),(1.11,3.2),(1.21,3.4),(1.34,3.25),(1.5,3.3),(1.7,3.2),
(1.02,2.85),(1.1,2.7),(1.2,2.9),(1.33,2.75),(1.49,2.8),(1.68,2.7),
(1.04,2.35),(1.13,2.2),(1.25,2.4),(1.4,2.25),(1.58,2.3),
(1.03,1.85),(1.14,1.7),(1.28,1.9),(1.45,1.75),
(1.05,1.45),(1.2,1.4),(1.38,1.5),
]
B_SIG_RIGHT_FILL = [
(1.06,9.55),(1.18,9.45),(1.33,9.55),(1.5,9.45),(1.7,9.5),
(1.07,9.05),(1.16,8.95),(1.28,9.05),(1.42,8.95),(1.6,9.05),(1.82,8.95),
(1.06,8.55),(1.17,8.45),(1.3,8.55),(1.46,8.45),(1.65,8.55),(1.88,8.45),
(1.07,8.05),(1.16,7.95),(1.27,8.05),(1.41,7.95),(1.58,8.05),(1.8,7.95),
(1.06,7.55),(1.15,7.45),(1.26,7.55),(1.39,7.45),(1.55,7.55),(1.75,7.45),
(1.07,7.05),(1.16,6.95),(1.28,7.05),(1.42,6.95),(1.6,7.05),(1.82,6.95),
(1.06,6.55),(1.15,6.45),(1.26,6.55),(1.4,6.45),(1.56,6.55),(1.78,6.45),
(1.07,6.05),(1.15,5.95),(1.25,6.05),(1.37,5.95),(1.52,6.05),(1.72,5.95),
(1.06,5.55),(1.16,5.45),(1.27,5.55),(1.41,5.45),(1.58,5.55),(1.8,5.45),
(1.07,5.05),(1.15,4.95),(1.25,5.05),(1.38,4.95),(1.54,5.05),(1.74,4.95),
(1.06,4.55),(1.15,4.45),(1.26,4.55),(1.4,4.45),(1.57,4.55),(1.79,4.45),
(1.07,4.05),(1.16,3.95),(1.27,4.05),(1.42,3.95),(1.6,4.05),
(1.06,3.55),(1.15,3.45),(1.26,3.55),(1.4,3.45),(1.58,3.55),(1.8,3.45),
(1.07,3.05),(1.16,2.95),(1.27,3.05),(1.41,2.95),(1.58,3.05),
(1.06,2.55),(1.17,2.45),(1.3,2.55),(1.47,2.45),(1.66,2.55),
(1.07,2.05),(1.18,1.95),(1.34,2.05),(1.52,1.95),
(1.08,1.6),(1.27,1.6),(1.5,1.65),
]
B_SIG_RIGHT_MID = [
(1.75,9.1),(1.9,8.6),(2.05,8.2),(1.85,8.0),(2.1,7.8),(1.8,7.1),(2.0,7.2),(2.3,7.4),(1.9,6.7),(2.2,6.3),
(1.8,6.0),(2.05,5.8),(2.35,5.8),(1.85,5.5),(2.1,5.4),(1.8,5.0),(2.2,4.8),(1.9,4.5),(2.3,4.4),(1.8,4.0),
(2.15,3.7),(1.85,3.4),(2.25,3.2),(1.8,3.0),(2.0,2.7),(2.3,2.6),(1.75,2.4),(2.2,1.9),(1.9,1.65),(2.35,1.5),
]
B_SIG_RIGHT_SCATTER = [
(2.33,11.46),(2.03,10.36),(2.53,9.73),(2.49,9.1),(2.51,8.35),(2.51,7.72),(2.82,7.31),(2.95,6.84),
(3.4,8.08),(2.28,6.02),(2.36,3.96),(2.33,3.32),(2.07,2.31),(2.12,2.23),(4.06,2.23),(1.82,2.86),
(1.67,2.28),(1.72,1.62),(1.82,1.48),(1.51,1.4),(1.96,9.59),(2.39,4.64),(2.1,9.2),(2.2,8.7),
(2.15,7.9),(2.05,7.5),(2.25,7.0),(2.1,6.5),(2.2,5.6),(2.05,5.1),(2.15,4.5),(1.95,3.9),(2.0,3.4),
(2.1,3.0),(1.9,2.5),(1.95,1.9),(2.3,5.3),(2.25,4.2),(2.45,6.6),(2.38,10.0),(2.25,10.6),
]
B_SIG_TOR = [(6.69,18.74),(5.18,15.22),(6.88,11.87)]
B_AMINO = [(-4.41,9.78),(-4.4,9.12),(-2.72,8.13),(-2.65,8.27),(2.03,8.35),(2.14,8.22),(2.14,6.49),(2.0,5.96)]

B_LABEL_NAMES = ['tdcE','tdcB','tdcF','tnaB','ygeX','astC','astA','astE','gabT','torA','torD','torC']
B_LABEL_X = [-3.74,-4.7,-2.86,-3.16,-2.01,2.54,2.5,2.5,2.16,6.65,5.32,6.74]
B_LABEL_Y = [10.25,9.27,8.47,6.97,6.53,10.52,9.02,7.7,6.22,16.87,13.13,10.0]
B_BIG_LABELS = ['torA','torD','torC']

# ---------------- styles ----------------
STYLE = {
    'Non-sig': dict(color='#000000', alpha=0.6),
    'Sig': dict(color='#FFA500', alpha=0.62),
    'Amino acid metabolism': dict(color='#246d24', alpha=0.7),
    'Metal binding': dict(color='#00e000', alpha=0.6),
    'Iron': dict(color='#ff0000', alpha=0.55),
    'e14_prophage': dict(color='#0000ff', alpha=0.55),
    'SOS': dict(color='#a020f0', alpha=0.55),
}
PT = 10
PT_NS = 16

W, H = 737, 805
fig = plt.figure(figsize=(W / 100, H / 100), dpi=100)


def fx(px):
    return px / W


def fy(py):
    return 1 - py / H


def style_axes(ax, xlim, ylim, yticks):
    ax.set_xlim(*xlim)
    ax.set_ylim(*ylim)
    ax.xaxis.set_major_locator(MultipleLocator(5))
    ax.xaxis.set_minor_locator(MultipleLocator(2.5))
    ax.set_yticks(yticks)
    ax.yaxis.set_minor_locator(MultipleLocator(2.5))
    ax.grid(which='major', color='#e6e6e6', lw=0.9, zorder=0)
    ax.grid(which='minor', color='#f0f0f0', lw=0.7, zorder=0)
    ax.set_axisbelow(True)
    for s in ['top', 'right']:
        ax.spines[s].set_visible(False)
    for s in ['left', 'bottom']:
        ax.spines[s].set_color('#222222')
        ax.spines[s].set_linewidth(0.9)
    ax.tick_params(which='major', length=3, width=0.8, color='#333333',
                   labelsize=9.5, labelcolor='#4d4d4d', pad=3)
    ax.tick_params(which='minor', length=0)
    ax.axvline(-1, color='#555555', lw=0.7, ls=(0, (4, 3)), zorder=5)
    ax.axvline(1, color='#555555', lw=0.7, ls=(0, (4, 3)), zorder=5)
    ax.axhline(-np.log10(0.05), color='#555555', lw=0.7, ls=(0, (4, 3)), zorder=5)
    ax.set_xlabel(r'Log$_2$ FC', fontsize=10.5)
    ax.set_ylabel(r'−Log$_{10}$ FDR', fontsize=10)


def scatter(ax, pts, group, z=2, s=PT):
    pts = np.array(pts, dtype=float)
    ax.scatter(pts[:, 0], pts[:, 1], s=s, linewidths=0, zorder=z, **STYLE[group])


# ---------------- Panel A ----------------
axA = fig.add_axes([fx(43.3), fy(343.3), fx(732) - fx(43.3), fy(60) - fy(343.3)])
style_axes(axA, (-11.42, 7.5), (-0.77, 16.75), [0, 5, 10, 15])
scatter(axA, A_NS_LEFT + A_NS_RIGHT + A_NS_OUT, 'Non-sig', s=PT_NS)
scatter(axA, A_SIG_LEFT + A_SIG_LEFT_FILL + A_SIG_LEFT_MID + A_SIG_LEFT_SCATTER + A_SIG_RIGHT
        + A_SIG_RIGHT_FILL + A_SIG_RIGHT_MID + A_SIG_RIGHT_SCATTER, 'Sig', 3)
scatter(axA, A_AMINO, 'Amino acid metabolism', 4)
scatter(axA, A_METAL, 'Metal binding', 4)
scatter(axA, A_IRON, 'Iron', 4)
scatter(axA, A_E14, 'e14_prophage', 4)
scatter(axA, A_SOS, 'SOS', 4)
for n, x, y in zip(A_LABEL_NAMES, A_LABEL_X, A_LABEL_Y):
    axA.text(x, y, n, ha='center', va='center', fontsize=7.2, color='#111111', zorder=6)
axA.yaxis.set_label_coords(-0.034, 0.5)
axA.xaxis.set_label_coords(0.5, -0.115)

# ---------------- Panel B ----------------
axB = fig.add_axes([fx(50), fy(757), fx(737) - fx(50), fy(440) - fy(757)])
style_axes(axB, (-6.95, 7.52), (-1.17, 24.98), [0, 5, 10, 15, 20])
scatter(axB, B_NS_LEFT + B_NS_RIGHT + B_NS_OUT, 'Non-sig', s=PT_NS)
scatter(axB, B_SIG_LEFT + B_SIG_LEFT_FILL + B_SIG_LEFT_MID + B_SIG_LEFT_SCATTER + B_SIG_RIGHT
        + B_SIG_RIGHT_FILL + B_SIG_RIGHT_MID + B_SIG_RIGHT_SCATTER + B_SIG_TOR, 'Sig', 3)
scatter(axB, B_AMINO, 'Amino acid metabolism', 4)
for n, x, y in zip(B_LABEL_NAMES, B_LABEL_X, B_LABEL_Y):
    axB.text(x, y, n, ha='center', va='center', color='#111111', zorder=6,
             fontsize=10.5 if n in B_BIG_LABELS else 7.8)
axB.yaxis.set_label_coords(-0.04, 0.5)
axB.xaxis.set_label_coords(0.5, -0.085)

# ---------------- legends & panel letters ----------------
LEGEND_A = ['Amino acid metabolism', 'Metal binding', 'e14_prophage', 'Non-sig', 'Sig', 'Iron', 'SOS']
LEGEND_A_POS = [(223, 8), (365, 8), (460, 8), (563, 8), (223, 26), (365, 26), (460, 26)]
for name, (cx, cy) in zip(LEGEND_A, LEGEND_A_POS):
    fig.add_artist(Line2D([fx(cx)], [fy(cy)], transform=fig.transFigure, marker='o', ms=7,
                          mew=0, ls='none', **STYLE[name]))
    fig.text(fx(cx + 17), fy(cy), name, ha='left', va='center', fontsize=7.6)

LEGEND_B = ['Sig', 'Amino acid metabolism', 'Non-sig']
LEGEND_B_POS = [(320, 407), (365.7, 407), (505.7, 407)]
for name, (cx, cy) in zip(LEGEND_B, LEGEND_B_POS):
    fig.add_artist(Line2D([fx(cx)], [fy(cy)], transform=fig.transFigure, marker='o', ms=5.5,
                          mew=0, ls='none', **STYLE[name]))
    fig.text(fx(cx + 14), fy(cy), name, ha='left', va='center', fontsize=7.8)

fig.text(fx(20), fy(16), 'A', ha='center', va='center', fontsize=25)
fig.text(fx(20), fy(417), 'B', ha='center', va='center', fontsize=25)

fig.savefig('out.png', dpi=100)
